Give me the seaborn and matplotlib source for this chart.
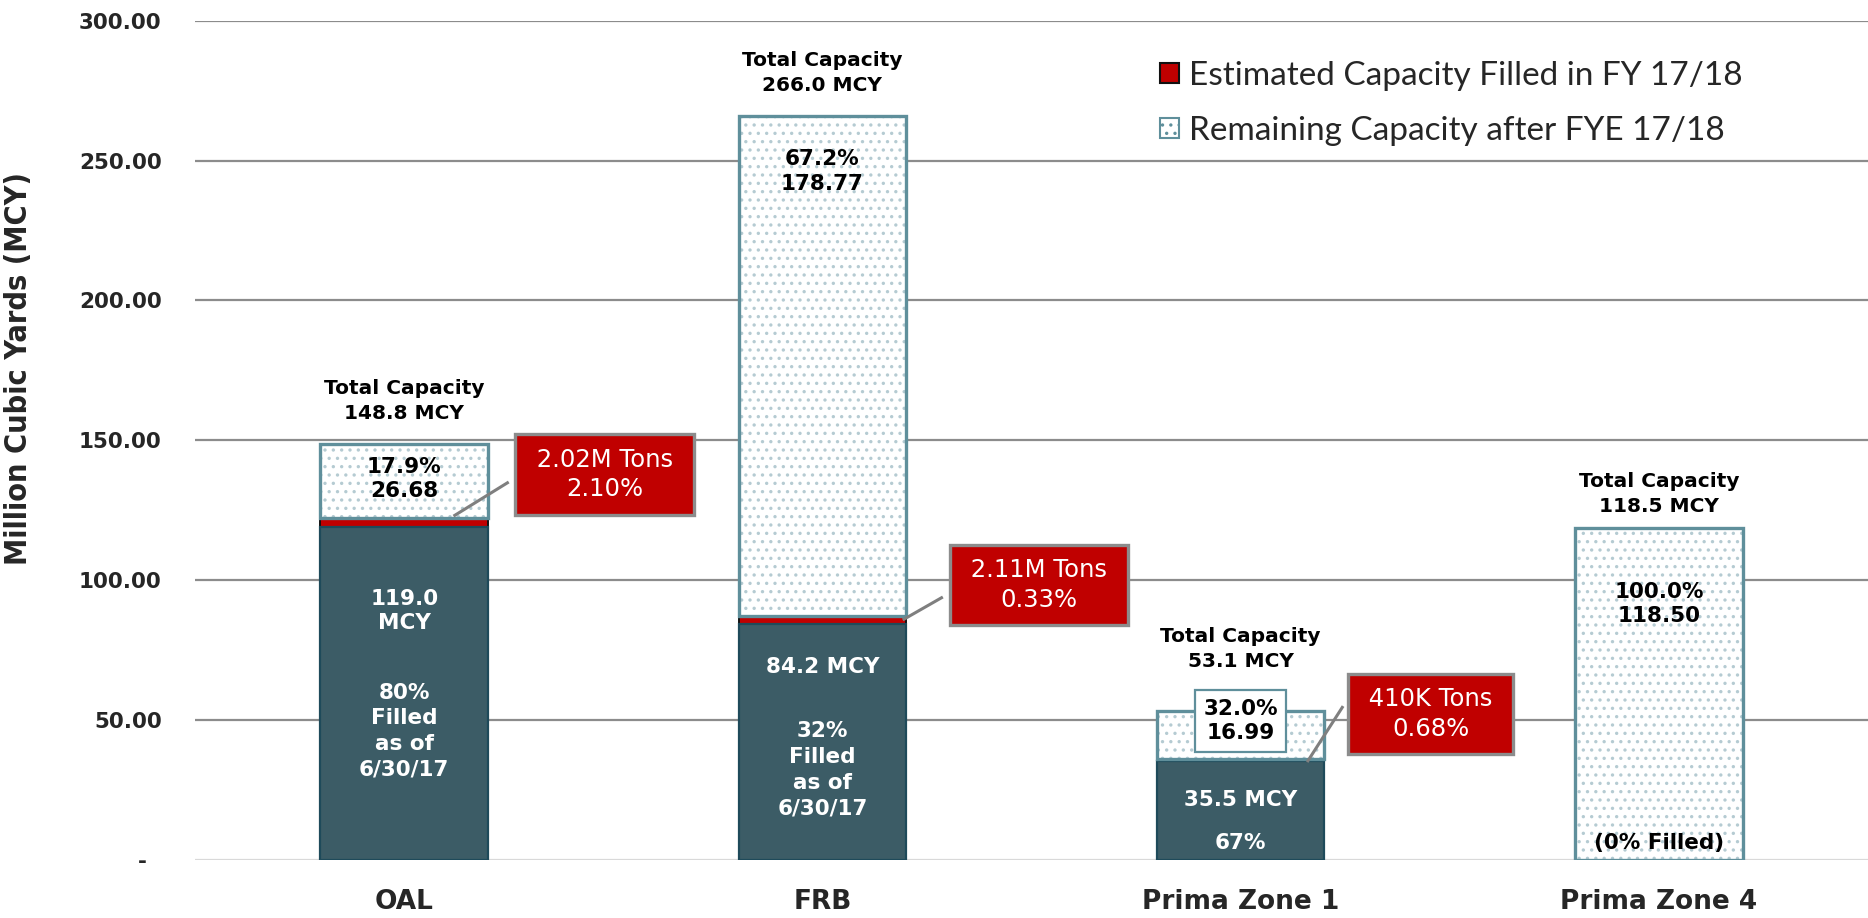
import numpy as np
import pandas as pd
import matplotlib
matplotlib.use("Agg")
import matplotlib.pyplot as plt
from matplotlib import font_manager as fm
import seaborn as sns
from matplotlib.patches import Patch

# ---------------- data ----------------
sites = ["OAL", "FRB", "Prima Zone 1", "Prima Zone 4"]
filled_mcy = [119.0, 84.2, 35.5, 0.0]          # filled as of 6/30/17
fy_filled_mcy = [3.12, 3.03, 0.61, 0.0]         # estimated capacity filled in FY 17/18
remaining_mcy = [26.68, 178.77, 16.99, 118.50]  # remaining after FYE 17/18
total_mcy = [148.8, 266.0, 53.1, 118.5]
remaining_pct = ["17.9%", "67.2%", "32.0%", "100.0%"]
filled_text = ["119.0\nMCY", "84.2 MCY", "35.5 MCY", "(0% Filled)"]
filled_note = ["80%\nFilled\nas of\n6/30/17", "32%\nFilled\nas of\n6/30/17", "67%", ""]
fy_tons = ["2.02M Tons", "2.11M Tons", "410K Tons"]
fy_pct = ["2.10%", "0.33%", "0.68%"]
y_ticks = [0, 50, 100, 150, 200, 250, 300]
legend_labels = ["Estimated Capacity Filled in FY 17/18", "Remaining Capacity after FYE 17/18"]

# ---------------- style / layout ----------------
DARK = "#3C5C66"
DARK_EDGE = "#1E4A5A"
RED = "#C00000"
TEAL = "#5F8F9B"
DOT = "#B5CBD2"
GRID = "#8C8C8C"
FONT = "DejaVu Sans"
BAR_W = 0.4

total_label_y = [163.9, 281.3, 75.4, 130.9]
rem_label_y = [136.2, 246.0, 49.7, 91.5]
filled_label_y = [89.0, 69.0, 21.4, 6.0]
note_label_y = [46.0, 32.2, 6.0, 0]
callout_xy = [(0.479, 137.8), (1.518, 98.3), (2.454, 52.2)]
connector_from = [(0.118, 122.9), (1.192, 85.8), (2.159, 35.0)]
connector_to = [(0.25, 135.1), (1.288, 94.0), (2.245, 55.0)]

sns.set_style("white")
plt.rcParams["font.family"] = [FONT]
plt.rcParams["hatch.linewidth"] = 1.2
plt.rcParams["hatch.color"] = DOT

# y-label font: prefer a narrow face
font_names = {f.name for f in fm.fontManager.ttflist}
cond = any(f.name == "DejaVu Sans" and f.stretch == "condensed" for f in fm.fontManager.ttflist)
if "Liberation Sans Narrow" in font_names:
    ylab_kw = dict(family="Liberation Sans Narrow", fontsize=23.5)
elif cond:
    ylab_kw = dict(family="DejaVu Sans", fontstretch="condensed", fontsize=22)
else:
    ylab_kw = dict(family="DejaVu Sans", fontsize=19.7)

df = pd.DataFrame({
    "site": sites,
    "filled": filled_mcy,
    "fy": fy_filled_mcy,
    "rem": remaining_mcy,
})
df["red_top"] = df["filled"] + df["fy"]
df["top"] = df["red_top"] + df["rem"]
df["red_plot"] = df["red_top"].where(df["red_top"] > 0)
df["filled_plot"] = df["filled"].where(df["filled"] > 0)

fig = plt.figure(figsize=(18.68, 9.18), dpi=100)
ax = fig.add_axes([0.1044, 0.0632, 0.8956, 0.9143])

# remaining (dotted) full-height layer
sns.barplot(data=df, x="site", y="top", color="white", edgecolor=DOT, linewidth=0,
            hatch="..", width=BAR_W, saturation=1, errorbar=None, ax=ax, zorder=2)
# FY 17/18 filled (red) layer
sns.barplot(data=df, x="site", y="red_plot", color=RED, edgecolor="#111111", linewidth=1.4,
            width=BAR_W, saturation=1, errorbar=None, ax=ax, zorder=3)
# filled as of 6/30/17 layer
sns.barplot(data=df, x="site", y="filled_plot", color=DARK, edgecolor=DARK_EDGE, linewidth=1.6,
            width=BAR_W, saturation=1, errorbar=None, ax=ax, zorder=4)
# outline of the remaining segment
xpos = np.arange(len(sites))
ax.bar(xpos, df["rem"], bottom=df["red_top"], width=BAR_W, fill=False,
       edgecolor=TEAL, linewidth=2.4, zorder=5)

# axes
ax.set_xlim(-0.5, 3.5)
ax.set_ylim(0, 300)
ax.set_yticks(y_ticks)
ax.set_yticklabels(["-\u2007" if v == 0 else f"{v:.2f}" for v in y_ticks],
                   fontsize=15.5, fontweight="bold", family=FONT)
ax.set_xticks(xpos)
ax.set_xticklabels(sites, fontsize=19, fontweight="bold", family=FONT)
ax.tick_params(axis="y", length=0, pad=24)
ax.tick_params(axis="x", length=0, pad=21)
ax.set_xlabel("")
ax.set_ylabel("Million Cubic Yards (MCY)", fontweight="bold", **ylab_kw)
ax.yaxis.set_label_coords(-0.097, 0.585)
for s in ax.spines.values():
    s.set_visible(False)
ax.yaxis.grid(True, color=GRID, linewidth=1.6)
ax.xaxis.grid(False)
ax.set_axisbelow(True)
ax.yaxis.get_gridlines()[0].set_color("#D9D9D9")

# total capacity labels
for i in range(len(sites)):
    ax.text(xpos[i], total_label_y[i], f"Total Capacity\n{total_mcy[i]:.1f} MCY",
            ha="center", va="center", fontsize=14.5, fontweight="bold", linespacing=1.4,
            color="black", zorder=6)

# remaining labels
for i in range(len(sites)):
    kw = {}
    if i == 2:
        kw["bbox"] = dict(boxstyle="square,pad=0.4", fc="white", ec=TEAL, lw=1.6)
    ax.text(xpos[i], rem_label_y[i], f"{remaining_pct[i]}\n{remaining_mcy[i]:.2f}",
            ha="center", va="center", fontsize=15.5, fontweight="bold", linespacing=1.3,
            color="black", zorder=6, **kw)

# filled labels
for i in range(len(sites)):
    col = "white" if filled_mcy[i] > 0 else "black"
    ax.text(xpos[i], filled_label_y[i], filled_text[i], ha="center", va="center",
            fontsize=15.5, fontweight="bold", linespacing=1.3, color=col, zorder=6)
    if filled_note[i]:
        ax.text(xpos[i], note_label_y[i], filled_note[i], ha="center", va="center",
                fontsize=15.5, fontweight="bold", linespacing=1.35, color="white", zorder=6)

# red callouts
for i in range(len(fy_tons)):
    (x0, y0), (x1, y1) = connector_from[i], connector_to[i]
    ax.plot([x0, x1], [y0, y1], color="#7F7F7F", lw=2.2, zorder=6, solid_capstyle="butt")
    ax.text(callout_xy[i][0], callout_xy[i][1], f" {fy_tons[i]} \n{fy_pct[i]}",
            ha="center", va="center", fontsize=17.5, color="white", linespacing=1.3,
            zorder=7, bbox=dict(boxstyle="square,pad=0.55", fc=RED, ec="#8C8C8C", lw=2.4))

# legend
handles = [
    Patch(facecolor=RED, edgecolor="#111111", linewidth=1.5),
    Patch(facecolor="white", edgecolor=TEAL, linewidth=1.5, hatch=".."),
]
leg = ax.legend(handles, legend_labels, loc="upper left", bbox_to_anchor=(0.577, 0.952),
                frameon=False, borderaxespad=0, borderpad=0, handlelength=0.55,
                handleheight=0.55, handletextpad=0.3, labelspacing=0.75,
                prop={"family": "Lato", "size": 24})

fig.savefig("out.png", dpi=100)
